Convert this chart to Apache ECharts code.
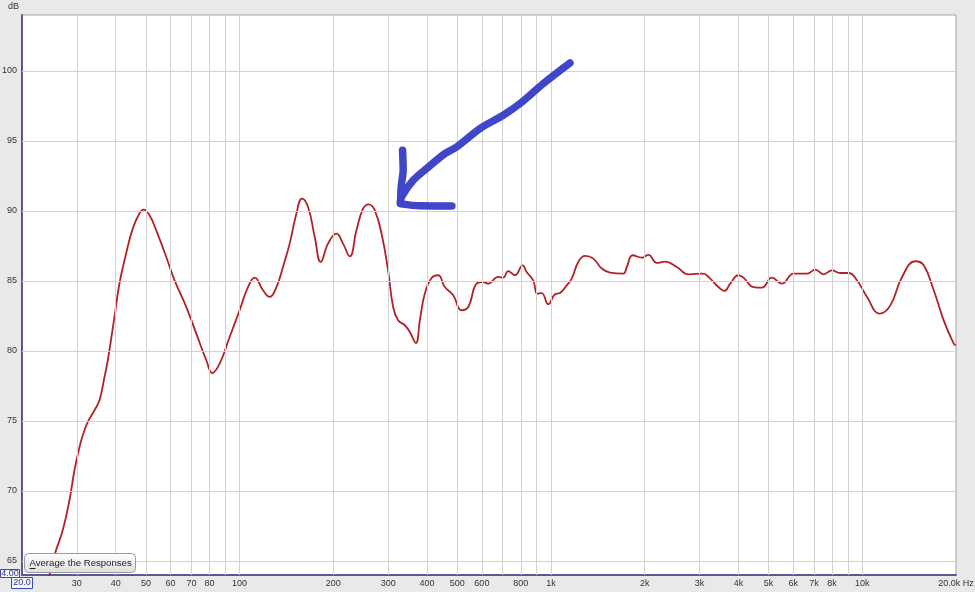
<!DOCTYPE html>
<html><head><meta charset="utf-8">
<script src="https://cdn.jsdelivr.net/npm/echarts@6.0.0/dist/echarts.min.js"></script>
<style>html,body{margin:0;padding:0;background:#e9e9e9}#c{width:975px;height:592px}</style>
</head><body><div id="c"></div>
<script>
// Frequency response (Hz, dB)
const freqHz = [24.1, 25.55, 27.03, 28.41, 29.48, 30.43, 31.35, 32.53, 34.18, 35.47,
  36.81, 37.72, 39.63, 41.13, 43.22, 45.39, 47.7, 49.13, 51.35, 53.97,
  58.13, 61.81, 67.42, 72.59, 78.17, 81.72, 86.26, 92.88, 100, 106.4,
  111.8, 118.9, 124.9, 131.3, 137.8, 144.8, 152.2, 158.6, 165.9, 174.3,
  182.2, 192.3, 204.7, 214.9, 225.9, 237.3, 249.2, 259.9, 271.7, 285.6,
  299.9, 311.2, 322.9, 339.4, 352.2, 368.1, 379.2, 393.5, 413.5, 434.2,
  456.3, 485.3, 516.4, 542.3, 576.9, 606, 628.8, 677, 702.6, 729,
  766.1, 811, 835.4, 877.3, 903.7, 933.6, 980.4, 1030, 1069, 1124,
  1166, 1224, 1287, 1368, 1456, 1548, 1708, 1752, 1831, 1957,
  2056, 2188, 2326, 2537, 2764, 3075, 3246, 3451, 3608, 3764,
  4002, 4153, 4473, 4760, 5125, 5520, 6015, 6643, 7062, 7509,
  7990, 8498, 9036, 9616, 10356, 11367, 12307, 13420, 14812, 15748,
  16963, 18260, 19665, 20000];
const levelDb = [63.3, 65.55, 67.19, 69.34, 71.48, 72.91, 73.98, 74.93, 75.76, 76.48,
  78.14, 79.34, 82.43, 84.84, 86.98, 88.76, 89.84, 90.1, 89.69, 88.62,
  86.71, 85.05, 83.14, 81.24, 79.34, 78.43, 79.1, 81.0, 82.91, 84.57,
  85.24, 84.34, 83.86, 84.57, 86.0, 87.67, 89.81, 90.89, 90.29, 88.14,
  86.36, 87.67, 88.39, 87.67, 86.76, 88.62, 90.17, 90.48, 90.05, 88.39,
  85.76, 83.14, 82.19, 81.84, 81.36, 80.57, 82.19, 84.1, 85.21, 85.41,
  84.57, 83.98, 82.91, 83.14, 84.81, 84.93, 84.81, 85.29, 85.24, 85.71,
  85.41, 86.12, 85.64, 85.05, 84.1, 84.14, 83.34, 84.05, 84.14, 84.69,
  85.17, 86.36, 86.79, 86.6, 85.89, 85.6, 85.53, 86.0, 86.84, 86.67,
  86.86, 86.29, 86.39, 86.0, 85.48, 85.53, 85.17, 84.57, 84.29, 84.81,
  85.41, 85.24, 84.57, 84.53, 85.24, 84.81, 85.53, 85.53, 85.81, 85.48,
  85.76, 85.57, 85.57, 85.05, 83.86, 82.67, 83.26, 85.29, 86.41, 86.12,
  84.34, 82.19, 80.53, 80.41];

// Hand-drawn blue arrow annotation (Hz, dB)
const arrowShaftHz = [1151, 944.7, 795, 702.6, 591.3, 497.7, 456.3, 398.5, 360.9, 331.1, 328.2];
const arrowShaftDb = [100.57, 99.1, 97.67, 96.84, 95.89, 94.57, 94.1, 93.03, 92.19, 91.0, 90.55];
const arrowHeadVHz = [333.7, 335.2, 330.7, 328.7];
const arrowHeadVDb = [94.34, 92.91, 91.84, 90.64];
const arrowHeadHHz = [329.4, 379.2, 480.6];
const arrowHeadHDb = [90.51, 90.37, 90.36];

// Axes / grid
const gridFreqs = [30, 40, 50, 60, 70, 80, 90, 100, 200, 300, 400, 500, 600, 700, 800, 900,
  1000, 2000, 3000, 4000, 5000, 6000, 7000, 8000, 9000, 10000];
const xTickValues = [30, 40, 50, 60, 70, 80, 100, 200, 300, 400, 500, 600, 800, 1000,
  2000, 3000, 4000, 5000, 6000, 7000, 8000, 10000, 20000];
const xTickLabels = ['30', '40', '50', '60', '70', '80', '100', '200', '300', '400', '500', '600', '800', '1k',
  '2k', '3k', '4k', '5k', '6k', '7k', '8k', '10k', '20.0k Hz'];
const dbTicks = [65, 70, 75, 80, 85, 90, 95, 100];
const dbTickLabels = ['65', '70', '75', '80', '85', '90', '95', '100'];

const FONT = '"Liberation Sans", Arial, sans-serif';
const pair = (xs, ys) => xs.map((v, i) => [v, ys[i]]);

const vLines = gridFreqs.map(f => {
  const idx = xTickValues.indexOf(f);
  return {
    xAxis: f,
    label: idx >= 0
      ? { show: true, formatter: xTickLabels[idx], position: 'start', distance: 4 }
      : { show: false }
  };
});
// right-edge label (no extra line; the frame border is there)
vLines.push({
  xAxis: 20000,
  lineStyle: { color: 'rgba(0,0,0,0)' },
  label: { show: true, formatter: xTickLabels[xTickLabels.length - 1], position: 'start', distance: 4 }
});
const hLines = dbTicks.map((d, i) => ({
  yAxis: d,
  label: { show: true, formatter: dbTickLabels[i], position: 'start', distance: 5 }
}));

const arrowStyle = { color: '#3f47c8', width: 7.5, cap: 'round', join: 'round' };
const arrowSeries = (xs, ys) => ({
  type: 'line', data: pair(xs, ys), showSymbol: false, smooth: 0.3, z: 5,
  lineStyle: arrowStyle, silent: true, clip: false
});

const chart = echarts.init(document.getElementById('c'), null, { renderer: 'canvas' });
chart.setOption({
  animation: false,
  backgroundColor: '#e9e9e9',
  grid: { left: 22, right: 19, top: 15, bottom: 17, show: true, backgroundColor: '#ffffff',
    borderColor: '#a3a3a3', borderWidth: 1 },
  xAxis: {
    type: 'log', logBase: 10, min: 20, max: 20000,
    axisLine: { show: true, lineStyle: { color: '#5a5a92', width: 2 } },
    axisTick: { show: false }, axisLabel: { show: false }, splitLine: { show: false }
  },
  yAxis: {
    type: 'value', min: 64, max: 104,
    axisLine: { show: true, onZero: false, lineStyle: { color: '#5a5a92', width: 2 } },
    axisTick: { show: false }, axisLabel: { show: false }, splitLine: { show: false }
  },
  series: [
    {
      type: 'line', data: [], z: 1, silent: true,
      markLine: {
        silent: true, symbol: ['none', 'none'], animation: false,
        lineStyle: { color: '#d2d2d2', width: 1, type: 'solid' },
        label: { color: '#333', fontSize: 9, fontFamily: FONT },
        emphasis: { disabled: true },
        data: vLines.concat(hLines)
      }
    },
    {
      type: 'line', name: 'Response', data: pair(freqHz, levelDb), showSymbol: false,
      smooth: 0.45, z: 3, silent: true,
      lineStyle: { color: '#b12226', width: 1.8 }
    },
    arrowSeries(arrowShaftHz, arrowShaftDb),
    arrowSeries(arrowHeadVHz, arrowHeadVDb),
    arrowSeries(arrowHeadHHz, arrowHeadHDb)
  ],
  graphic: [
    { type: 'text', x: 8, y: 2, z: 10, style: { text: 'dB', fontSize: 9, fontFamily: FONT, fill: '#333' } },
    { type: 'rect', z: 10, shape: { x: 0.5, y: 569.5, width: 19, height: 8 },
      style: { fill: '#f4f6ff', stroke: '#3a48b0', lineWidth: 1 } },
    { type: 'text', z: 11, x: 10, y: 573.5, style: { text: '4.00', fontSize: 9, fontFamily: FONT,
      fill: '#2a3a90', align: 'center', verticalAlign: 'middle' } },
    { type: 'rect', z: 10, shape: { x: 11.5, y: 577.5, width: 21, height: 11 },
      style: { fill: '#f4f6ff', stroke: '#3a48b0', lineWidth: 1 } },
    { type: 'text', z: 11, x: 22, y: 583, style: { text: '20.0', fontSize: 9, fontFamily: FONT,
      fill: '#2a3a90', align: 'center', verticalAlign: 'middle' } },
    { type: 'group', x: 24, y: 553, z: 20, children: [
      { type: 'rect', z: 20, shape: { x: 0.5, y: 0.5, width: 111, height: 19, r: 4 },
        style: { stroke: '#9c9c9c', lineWidth: 1,
          fill: new echarts.graphic.LinearGradient(0, 0, 0, 1, [
            { offset: 0, color: '#ffffff' }, { offset: 1, color: '#dedede' }]) } },
      { type: 'text', z: 21, x: 5.5, y: 10.5, style: { text: 'Average the Responses', fontSize: 9.6,
        fontFamily: FONT, fill: '#222', align: 'left', verticalAlign: 'middle' } },
      { type: 'line', z: 21, shape: { x1: 5.5, y1: 15.5, x2: 11.5, y2: 15.5 },
        style: { stroke: '#222', lineWidth: 1 } }
    ] }
  ]
});
</script>
</body></html>
